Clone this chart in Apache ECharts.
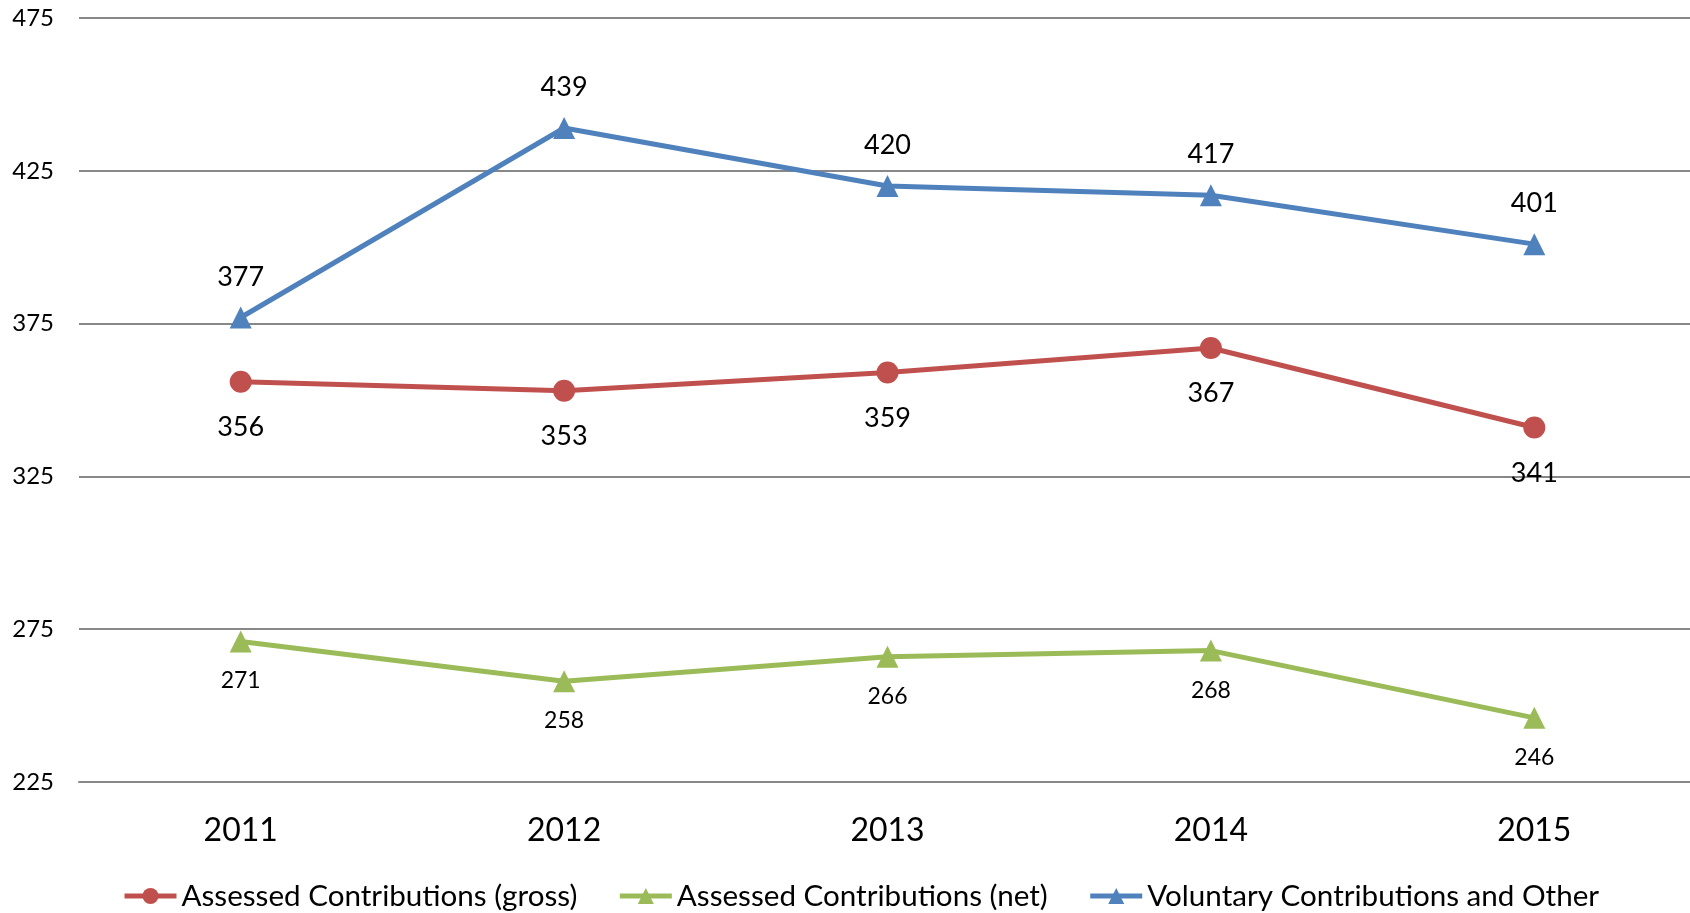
<!DOCTYPE html>
<html>
<head>
<meta charset="utf-8">
<title>Contributions 2011-2015</title>
<script src="https://cdn.jsdelivr.net/npm/echarts@6/dist/echarts.min.js"></script>
<style>
  html, body { margin: 0; padding: 0; background: #fff; }
  #chart { width: 1690px; height: 913px; }
</style>
</head>
<body>
<div id="chart"></div>
<script>
var years = ['2011', '2012', '2013', '2014', '2015']
var gross = [356, 353, 359, 367, 341]
var net = [271, 258, 266, 268, 246]
var voluntary = [377, 439, 420, 417, 401]
// labelled ticks (every other gridline step of 25)
var yTicks = [225, 275, 325, 375, 425, 475]

var font = 'Lato, "Open Sans", sans-serif'

var chart = echarts.init(document.getElementById('chart'))

function lineSeries(name, data, color, symbol, labelPos, labelSize, dist) {
  return {
    name: name,
    type: 'line',
    data: data,
    symbol: symbol,
    symbolSize: 22,
    showAllSymbol: true,
    lineStyle: { color: color, width: 5 },
    itemStyle: { color: color },
    label: {
      show: true,
      position: labelPos,
      distance: dist,
      color: '#000',
      fontFamily: font,
      fontSize: labelSize
    },
    animation: false
  }
}

chart.setOption({
  backgroundColor: '#fff',
  grid: { left: 79, width: 1617, top: 18, bottom: 131, containLabel: false, outerBoundsMode: 'none' },
  legend: {
    bottom: -3,
    left: 117,
    itemWidth: 52,
    itemHeight: 20,
    itemGap: 40,
    lineStyle: { width: 5 },
    textStyle: { fontFamily: font, fontSize: 29.6, color: '#000' },
    data: ['Assessed Contributions (gross)', 'Assessed Contributions (net)', 'Voluntary Contributions and Other']
  },
  xAxis: {
    type: 'category',
    data: years,
    boundaryGap: true,
    axisLine: { show: true, lineStyle: { color: '#888', width: 2 } },
    axisTick: { show: false },
    axisLabel: { margin: 33, color: '#000', fontFamily: font, fontSize: 32 }
  },
  yAxis: {
    type: 'value',
    min: 225,
    max: 475,
    interval: 25,
    axisLine: { show: false },
    axisTick: { show: false },
    axisLabel: {
      margin: 25,
      color: '#000',
      fontFamily: font,
      fontSize: 24,
      formatter: function (v) { return yTicks.indexOf(v) > -1 ? v : '' }
    },
    splitLine: { show: true, lineStyle: { color: ['#888', 'rgba(0,0,0,0)'], width: 2 } }
  },
  series: [
    lineSeries('Assessed Contributions (gross)', gross, '#C0504D', 'circle', 'bottom', 27, 21),
    lineSeries('Assessed Contributions (net)', net, '#9BBB59', 'triangle', 'bottom', 23, 17),
    lineSeries('Voluntary Contributions and Other', voluntary, '#4F81BD', 'triangle', 'top', 27, 16)
  ]
})
</script>
</body>
</html>
